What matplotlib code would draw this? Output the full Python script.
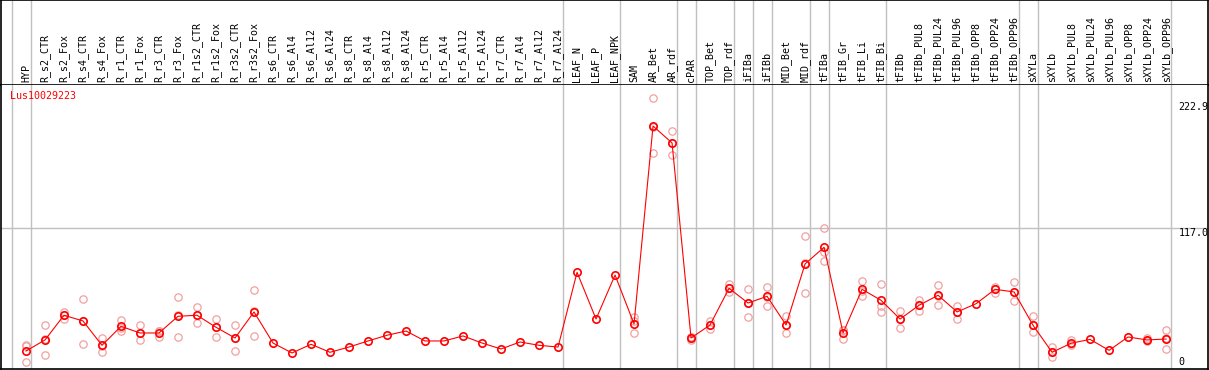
import matplotlib
matplotlib.use("Agg")
import matplotlib.pyplot as plt
import matplotlib.transforms as mtransforms

# column labels (samples)
conditions = [
    "HYP", "R_s2_CTR", "R_s2_Fox", "R_s4_CTR", "R_s4_Fox", "R_r1_CTR", "R_r1_Fox",
    "R_r3_CTR", "R_r3_Fox", "R_r1s2_CTR", "R_r1s2_Fox", "R_r3s2_CTR", "R_r3s2_Fox",
    "R_s6_CTR", "R_s6_Al4", "R_s6_Al12", "R_s6_Al24", "R_s8_CTR", "R_s8_Al4",
    "R_s8_Al12", "R_s8_Al24", "R_r5_CTR", "R_r5_Al4", "R_r5_Al12", "R_r5_Al24",
    "R_r7_CTR", "R_r7_Al4", "R_r7_Al12", "R_r7_Al24", "LEAF_N", "LEAF_P", "LEAF_NPK",
    "SAM", "AR_Bet", "AR_rdf", "cPAR", "TOP_Bet", "TOP_rdf", "iFIBa", "iFIBb",
    "MID_Bet", "MID_rdf", "tFIBa", "tFIB_Gr", "tFIB_Li", "tFIB_Bi", "tFIBb",
    "tFIBb_PUL8", "tFIBb_PUL24", "tFIBb_PUL96", "tFIBb_OPP8", "tFIBb_OPP24",
    "tFIBb_OPP96", "sXYLa", "sXYLb", "sXYLb_PUL8", "sXYLb_PUL24", "sXYLb_PUL96",
    "sXYLb_OPP8", "sXYLb_OPP24", "sXYLb_OPP96",
]

# mean expression per sample
means = [
    9.6, 19.3, 40.9, 35.9, 14.6, 31.2, 25.4, 25.4, 40.0, 40.9, 30.4, 21.0, 43.8,
    16.6, 7.9, 15.5, 8.5, 13.1, 18.4, 23.4, 27.1, 18.4, 18.4, 22.8, 16.6,
    11.4, 17.5, 14.6, 13.1, 78.5, 37.6, 76.1, 33.3, 206.5, 191.7, 21.0, 32.4,
    64.5, 51.6, 57.5, 32.4, 85.8, 100.4, 25.4, 63.6, 54.0, 37.6, 49.6, 58.4,
    43.8, 51.0, 63.6, 61.3, 32.1, 8.5, 16.4, 19.8, 10.2, 21.9, 19.3, 20.1,
]

# individual replicates (empty where none are visible)
replicates = [
    [15, 14, 0], [32, 6, 20], [44, 38, 41], [55, 16, 36], [21, 9, 14], [37, 27, 30],
    [32, 19, 25], [27, 22, 27], [57, 22, 41], [48, 34, 41], [38, 22, 31], [32, 10, 21],
    [63, 23, 45], [], [], [], [], [], [], [], [], [], [], [], [], [], [], [], [],
    [], [], [], [39, 25, 36], [231, 183, 206], [202, 181, 192], [22, 19, 22],
    [36, 29, 32], [68, 61, 65], [64, 39, 52], [66, 49, 57], [40, 25, 32],
    [110, 60, 87], [117, 88, 96], [28, 20, 28], [71, 58, 62], [68, 44, 49],
    [45, 30, 38], [54, 45, 50], [67, 50, 58], [49, 38, 44], [], [66, 60, 64],
    [70, 53, 61], [40, 26, 32], [13, 4, 9], [19, 15, 16], [], [], [],
    [21, 18, 19], [28, 11, 21],
]

gene = "Lus10029223"
y_ticks = [222.9, 117.0, 0]
group_ends = [-1, 0, 28, 31, 34, 35, 37, 38, 39, 41, 42, 45, 52, 53, 60]

plt.rcParams["font.family"] = "DejaVu Sans Mono"

W, H = 1209, 370
fig = plt.figure(figsize=(W / 100, H / 100), dpi=100)
x_lo, x_hi = -1.342, 62.18

head = fig.add_axes([0.5 / W, 1 - 85 / H, 1207 / W, 85 / H])
ax = fig.add_axes([0.5 / W, 1 / H, 1207 / W, 284 / H])

for a in (head, ax):
    a.set_xlim(x_lo, x_hi)
    a.set_xticks([])
    a.set_yticks([])
    for s in a.spines.values():
        s.set_color("black")
        s.set_linewidth(1.2)
    for g in group_ends:
        a.axvline(g + 0.25, color="#c0c0c0", lw=1.0, zorder=0)

head.set_ylim(0, 1)
ax.set_ylim(-6.13, 242.4)
ax.spines["top"].set_visible(False)

# rotated sample names in the header band
for i, name in enumerate(conditions):
    head.text(i, 0.03, name, rotation=90, ha="center", va="bottom",
              fontsize=7.2, color="black")

ax.axhline(117.0, color="#c0c0c0", lw=1.0, zorder=0)

xs = [i for i, r in enumerate(replicates) for _ in r]
ys = [v for r in replicates for v in r]
ax.plot(xs, ys, linestyle="none", marker="o", ms=5.3, mfc="none",
        mec="#f0a0a0", mew=0.9, zorder=2)

ax.plot(range(len(means)), means, color="red", lw=0.8, zorder=3)
ax.plot(range(len(means)), means, linestyle="none", marker="o", ms=5.3,
        mfc="none", mec="red", mew=1.2, zorder=4)

ax.text(0.0075, 232.5, gene, transform=mtransforms.blended_transform_factory(ax.transAxes, ax.transData),
        color="red", fontsize=7.2, ha="left", va="center")

trans = mtransforms.blended_transform_factory(ax.transAxes, ax.transData)
for v in y_ticks:
    lab = "0" if v == 0 else f"{v:.1f}"
    ax.text(1178 / 1207, v, lab, transform=trans, fontsize=7.2,
            ha="left", va="top" if v == 117.0 else "center", clip_on=False)

fig.savefig("out.png", dpi=100)
